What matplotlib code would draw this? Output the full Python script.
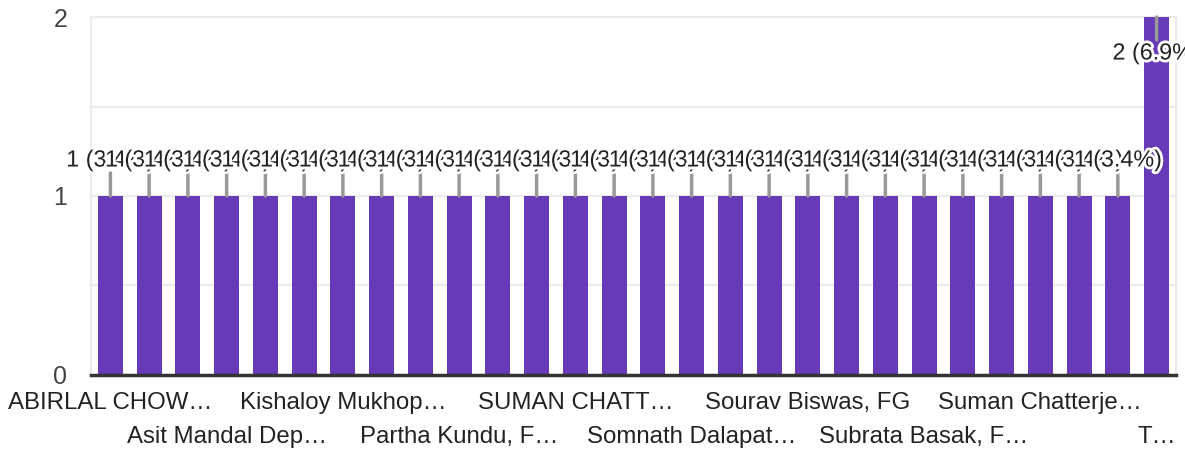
import matplotlib
matplotlib.use('Agg')
import matplotlib.pyplot as plt
import matplotlib.patheffects as pe
import numpy as np

plt.rcParams['font.family'] = ['Liberation Sans', 'DejaVu Sans']

# 28 answers, only every third label is drawn on the axis
labels = ['ABIRLAL CHOW…', '', '', 'Asit Mandal Dep…', '', '',
          'Kishaloy Mukhop…', '', '', 'Partha Kundu, F…', '', '',
          'SUMAN CHATT…', '', '', 'Somnath Dalapat…', '', '',
          'Sourav Biswas, FG', '', '', 'Subrata Basak, F…', '', '',
          'Suman Chatterje…', '', '', 'T…']
counts = [1] * 27 + [2]
yticks = [0, 1, 2]

purple = '#673ab7'
total = sum(counts)
x = np.arange(len(counts))

fig = plt.figure(figsize=(11.85, 4.5), dpi=100)
ax = fig.add_axes([0.0768, 0.1667, 0.9156, 0.7955])

ax.bar(x, counts, width=0.645, color=purple, zorder=3)

ax.set_xlim(-0.5, len(counts) - 0.5)
ax.set_ylim(0, 2)
ax.set_yticks(yticks)
ax.set_yticks([0.5, 1.5], minor=True)
ax.grid(axis='y', which='both', color='#ebebeb', linewidth=1.6, zorder=0)
ax.tick_params(axis='y', which='both', length=0, pad=17, labelsize=18, labelcolor='#444444')

shown = [i for i, l in enumerate(labels) if l]
ax.set_xticks(shown)
ax.set_xticklabels([labels[i] if k % 2 == 0 else '\n' + labels[i] for k, i in enumerate(shown)],
                   fontsize=17.3, color='#222222', linespacing=1.67)
ax.tick_params(axis='x', length=0, pad=12.5)

for s in ['left', 'right', 'top']:
    ax.spines[s].set_color('#ebebeb')
    ax.spines[s].set_linewidth(1.6)
ax.spines['bottom'].set_color('#333333')
ax.spines['bottom'].set_linewidth(2.5)
ax.spines['bottom'].set_zorder(5)

# value labels with leader lines, pointing down for the tallest bar
ymax = max(counts)
for i, v in enumerate(counts):
    d = -1 if v == ymax else 1
    ax.annotate('', xy=(i, v), xytext=(0, 23 * d), textcoords='offset pixels',
                arrowprops=dict(arrowstyle='-', color='#999999', lw=2.5, shrinkA=0, shrinkB=0),
                zorder=6, annotation_clip=False)
    ax.annotate(f'{v} ({v / total * 100:.1f}%)', xy=(i, v), xytext=(0, 36 * d),
                textcoords='offset pixels', ha='center', va='center', fontsize=16.8,
                color='#222222', zorder=7, annotation_clip=False,
                path_effects=[pe.withStroke(linewidth=4, foreground='white')])

fig.savefig('out.png', dpi=100)
